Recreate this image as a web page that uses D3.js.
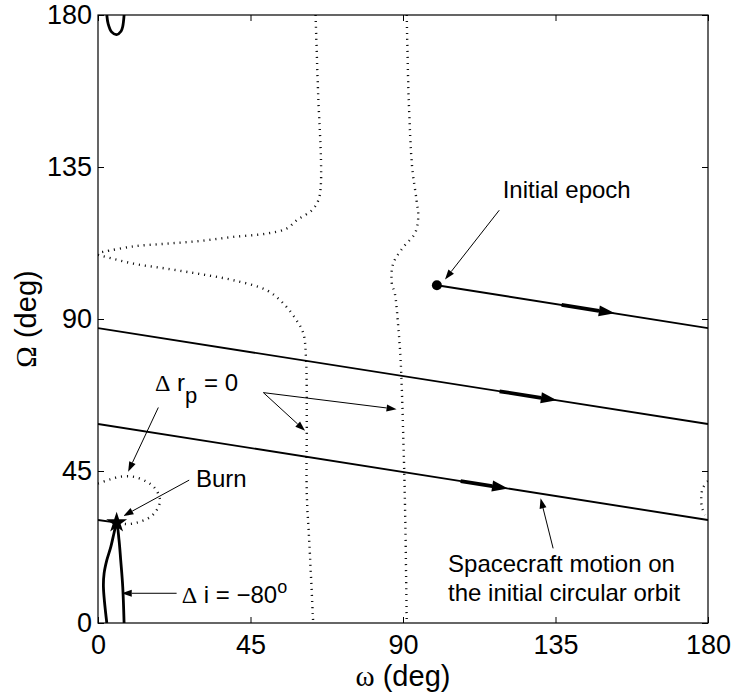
<!DOCTYPE html>
<html>
<head>
<meta charset="utf-8">
<script src="https://cdn.jsdelivr.net/npm/d3@7"></script>
<style>
  body { margin: 0; background: #fff; }
  svg { display: block; font-family: "Liberation Sans", Arial, sans-serif; }
  .greek { font-family: "Liberation Serif", "Times New Roman", serif; }
</style>
</head>
<body>
<div id="chart"></div>
<script>
// tick values (deg)
const xTicks = [0, 45, 90, 135, 180];
const yTicks = [0, 45, 90, 135, 180];

// spacecraft motion on the initial circular orbit [omega, Omega], wraps at omega = 180
const orbitPasses = [
    [[100, 100], [180, 87.3]],
    [[0, 87.3], [180, 58.9]],
    [[0, 58.9], [180, 30.5]],
    [[0, 30.5], [5.5, 29.7]]
];
// direction arrows: [pass, omega start, omega tip]
const motionArrows = [[0, 136.8, 152.5], [1, 118.5, 135.4], [2, 107, 121]];

const epochPoint = [100, 100];
const burnPoint = [5.5, 29.7];

// delta r_p = 0 contours (dotted)
const rpUpper = [[64.2, 180], [65.0, 155.6], [65.8, 137], [65.7, 129], [65.0, 125.1], [63.1, 122.2],
    [58.6, 119.2], [55.7, 116.8], [49.8, 115.3], [39.9, 114.3], [30.1, 113.1], [20.3, 112.3],
    [10.4, 111.5], [1.6, 109.9], [0, 109.6]];
const rpLower = [[0, 109.0], [10.4, 106.4], [20.3, 104.9], [30.1, 103.3], [39.9, 101.5], [49.8, 98.5],
    [54.7, 94.6], [58.6, 89.6], [60.6, 85.7], [61.4, 77.8], [61.6, 60], [61.6, 38.5], [62.4, 23], [63.5, 0]];
const rpRight = [[91.1, 180], [91.7, 154.7], [92.7, 135], [94.0, 125.1], [94.5, 120.2], [93.5, 115.3],
    [90.1, 111.3], [87.1, 106.4], [86.7, 100.5], [87.6, 97.5], [88.6, 87.7], [89.3, 77.8], [90.0, 58],
    [90.6, 34.3], [91.1, 0]];
const rpBurnArc = [[0, 41.3], [3.5, 42.5], [6.5, 43.3], [10.4, 43.3], [14.4, 41.8], [16.8, 39.9],
    [18.3, 36.4], [17.3, 33.4], [15.3, 31.3], [12.4, 30], [9.4, 29.3], [6, 29.5]];
const rpEdgeArc = [[180, 42], [178.5, 40], [178, 37], [178.3, 34], [179.2, 32]];

// delta i = -80 deg contours (thick solid)
const diLower = [[2.6, 0], [1.6, 10.7], [1.8, 14.7], [2.6, 18.6], [3.8, 22.6], [4.7, 26.5], [5.5, 29.7],
    [6.2, 24.6], [6.7, 18.6], [7.3, 10.7], [7.7, 0]];
const diUpper = [[2.6, 180], [3.0, 177.4], [4.0, 175.0], [5.5, 174.2], [6.8, 175.2], [7.3, 176.6], [7.7, 180]];

const width = 734, height = 694;
const margin = {top: 15, right: 26, bottom: 71, left: 98};

const svg = d3.select('#chart').append('svg')
    .attr('width', width)
    .attr('height', height);

const x = d3.scaleLinear().domain([0, 180]).range([margin.left, width - margin.right]);
const y = d3.scaleLinear().domain([0, 180]).range([height - margin.bottom, margin.top]);

svg.append('clipPath').attr('id', 'plot-clip')
    .append('rect')
    .attr('x', x(0)).attr('y', y(180))
    .attr('width', x(180) - x(0)).attr('height', y(0) - y(180));

const plot = svg.append('g').attr('clip-path', 'url(#plot-clip)');

const line = d3.line().x(d => x(d[0])).y(d => y(d[1]));
const smooth = d3.line().x(d => x(d[0])).y(d => y(d[1])).curve(d3.curveCatmullRom);

// dotted contours
plot.selectAll('.rp')
    .data([rpUpper, rpLower, rpRight, rpBurnArc, rpEdgeArc])
    .enter().append('path')
    .attr('class', 'rp')
    .attr('d', smooth)
    .attr('fill', 'none')
    .attr('stroke', '#111')
    .attr('stroke-width', 2.4)
    .attr('stroke-dasharray', '1.1,4.9');

// delta i contours
plot.selectAll('.di')
    .data([diLower, diUpper])
    .enter().append('path')
    .attr('class', 'di')
    .attr('d', smooth)
    .attr('fill', 'none')
    .attr('stroke', '#000')
    .attr('stroke-width', 2.8);

// orbit passes
plot.selectAll('.pass')
    .data(orbitPasses)
    .enter().append('path')
    .attr('class', 'pass')
    .attr('d', line)
    .attr('fill', 'none')
    .attr('stroke', '#000')
    .attr('stroke-width', 1.9);

function omegaOnPass(pass, w) {
    const [a, b] = orbitPasses[pass];
    return a[1] + (b[1] - a[1]) * (w - a[0]) / (b[0] - a[0]);
}

// draws a line with a filled triangular head at (x2, y2)
function arrow(g, x1, y1, x2, y2, len, half, sw) {
    const ang = Math.atan2(y2 - y1, x2 - x1);
    const bx = x2 - len * Math.cos(ang), by = y2 - len * Math.sin(ang);
    g.append('line')
        .attr('x1', x1).attr('y1', y1).attr('x2', bx).attr('y2', by)
        .attr('stroke', '#000').attr('stroke-width', sw);
    const px = -Math.sin(ang) * half, py = Math.cos(ang) * half;
    g.append('path')
        .attr('d', `M${x2},${y2}L${bx + px},${by + py}L${bx - px},${by - py}Z`)
        .attr('fill', '#000');
}

motionArrows.forEach(([p, w0, w1]) => {
    arrow(plot, x(w0), y(omegaOnPass(p, w0)), x(w1), y(omegaOnPass(p, w1)), 16, 5.5, 3.8);
});

plot.append('circle')
    .attr('cx', x(epochPoint[0])).attr('cy', y(epochPoint[1]))
    .attr('r', 5).attr('fill', '#000');

svg.append('path')
    .attr('d', d3.symbol().type(d3.symbolStar).size(135)())
    .attr('transform', `translate(${x(burnPoint[0])},${y(burnPoint[1])})`)
    .attr('fill', '#000');

// axes
const tickFont = 27, labelFont = 29;
const axes = [
    d3.axisBottom(x).tickValues(xTicks).tickSizeInner(-6).tickSizeOuter(0).tickPadding(12),
    d3.axisLeft(y).tickValues(yTicks).tickSizeInner(-6).tickSizeOuter(0).tickPadding(6),
    d3.axisTop(x).tickValues(xTicks).tickSizeInner(-6).tickSizeOuter(0).tickFormat(''),
    d3.axisRight(y).tickValues(yTicks).tickSizeInner(-6).tickSizeOuter(0).tickFormat('')
];
const translates = [
    `translate(0,${y(0)})`, `translate(${x(0)},0)`,
    `translate(0,${y(180)})`, `translate(${x(180)},0)`
];
axes.forEach((ax, i) => {
    const g = svg.append('g').attr('transform', translates[i]).call(ax);
    g.select('.domain').remove();
    g.selectAll('.tick line').attr('stroke', '#000').attr('stroke-width', 1);
    g.selectAll('.tick text')
        .attr('fill', '#000')
        .style('font-size', tickFont + 'px')
        .style('font-family', '"Liberation Sans", Arial, sans-serif');
});

svg.append('rect')
    .attr('x', x(0)).attr('y', y(180))
    .attr('width', x(180) - x(0)).attr('height', y(0) - y(180))
    .attr('fill', 'none').attr('stroke', '#000').attr('stroke-width', 1.2);

// axis labels
const xl = svg.append('text')
    .attr('x', (x(0) + x(180)) / 2).attr('y', 686)
    .attr('text-anchor', 'middle')
    .style('font-size', labelFont + 'px');
xl.append('tspan').attr('class', 'greek').text('ω');
xl.append('tspan').text(' (deg)');

const yl = svg.append('text')
    .attr('transform', `translate(36,${(y(0) + y(180)) / 2}) rotate(-90)`)
    .attr('text-anchor', 'middle')
    .style('font-size', labelFont + 'px');
yl.append('tspan').attr('class', 'greek').text('Ω');
yl.append('tspan').text(' (deg)');

// annotations
const ann = svg.append('g').style('font-size', '24px');

ann.append('text').attr('x', x(119.4)).attr('y', y(125.9)).text('Initial epoch');
ann.append('text').attr('x', x(28.9)).attr('y', y(40.3)).text('Burn');
ann.append('text').attr('x', x(103.3)).attr('y', y(15.2)).text('Spacecraft motion on');
ann.append('text').attr('x', x(103.3)).attr('y', y(6.5)).text('the initial circular orbit');

const rp = ann.append('text').attr('x', x(16.8)).attr('y', y(68.7));
rp.append('tspan').attr('class', 'greek').text('Δ');
rp.append('tspan').text(' r');
rp.append('tspan').attr('dy', 12).style('font-size', '22px').text('p');
rp.append('tspan').attr('dy', -12).text(' = 0');

const di = ann.append('text').attr('x', x(24.7)).attr('y', y(6.0));
di.append('tspan').attr('class', 'greek').text('Δ');
di.append('tspan').text(' i = −80');
di.append('tspan').attr('dy', -10).style('font-size', '18px').text('o');

const notes = [
    [[118.4, 122.2], [102.4, 101.7]],
    [[48.8, 68.2], [61.1, 56.9]],
    [[48.8, 68.2], [88.1, 63.3]],
    [[17.8, 63.8], [8.9, 44.8]],
    [[26.9, 42.3], [7.5, 31.7]],
    [[23.2, 8.8], [7.0, 8.8]],
    [[134.3, 22.1], [130.6, 36.9]]
];
notes.forEach(([a, b]) => arrow(ann, x(a[0]), y(a[1]), x(b[0]), y(b[1]), 10, 3.5, 1));
</script>
</body>
</html>
